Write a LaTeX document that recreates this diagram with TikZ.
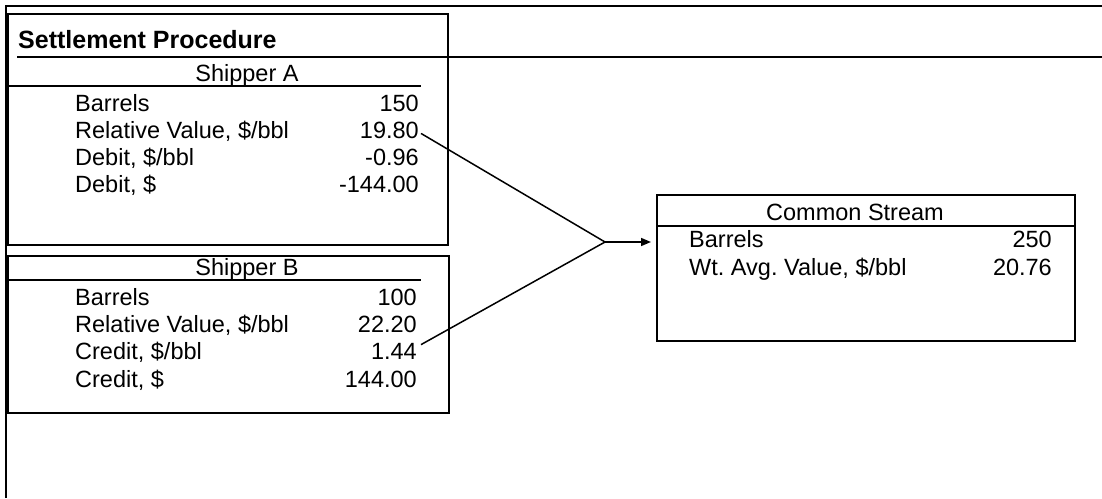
\documentclass[tikz,border=0pt]{standalone}
\usepackage{fontspec}
\setmainfont{Liberation Sans}
\usepackage{tikz}
\usetikzlibrary{calc}
\usetikzlibrary{arrows.meta}
\frenchspacing
\tikzstyle{tblbox} = [rectangle, 
anchor=north west, 
inner sep=0pt, 
draw=black, 
line width=1.5pt, 
fill=none]
\tikzstyle{frameline} = [line width=2.2pt]
\tikzstyle{rule} = [line width=1.5pt]
\tikzstyle{lbl} = [anchor=base west, inner sep=0pt, font=\fontsize{23.5}{28}\selectfont]
\tikzstyle{val} = [anchor=base east, inner sep=0pt, font=\fontsize{23.5}{28}\selectfont]
\tikzstyle{hdr} = [anchor=base, inner sep=0pt, font=\fontsize{23.5}{28}\selectfont]
\tikzstyle{ttl} = [anchor=base west, inner sep=0pt, font=\fontsize{25}{30}\selectfont\bfseries]
\tikzstyle{link} = [line width=1.5pt]
\tikzstyle{arrow} = [line width=1.5pt, -{Triangle[length=10pt, width=8pt]}]

\begin{document}
\begin{tikzpicture}[x=1pt, y=-1pt]
    \useasboundingbox (0,0) rectangle (1102,498);

    % Frame
    \draw [frameline] (6,498) -- (6,6) -- (1102,6);
    \draw [frameline] (17,57) -- (1102,57);
    \node (title) [ttl] at (18,48) {Settlement Procedure};

    % Boxes
    \node (boxA) [tblbox, minimum width=440pt, minimum height=231pt] at (7,13) {};
    \node (boxB) [tblbox, minimum width=441pt, minimum height=157pt] at (7,255) {};
    \node (common) [tblbox, minimum width=418pt, minimum height=146pt] at (656,194) {};

    % Shipper A
    \node (hdrA) [hdr] at (247,81) {Shipper A};
    \draw [rule] ($(boxA.north west)+(0,73)$) -- (421,86);
    \node (barA) [lbl] at (75,111) {Barrels};
    \node (barAv) [val] at (419,111) {150};
    \node (relA) [lbl] at (75,138) {Relative Value, \$/bbl};
    \node (relAv) [val] at (419,138) {19.80};
    \node (debA) [lbl] at (75,165) {Debit, \$/bbl};
    \node (debAv) [val] at (419,165) {-0.96};
    \node (totA) [lbl] at (75,192) {Debit, \$};
    \node (totAv) [val] at (419,192) {-144.00};

    % Shipper B
    \node (hdrB) [hdr] at (247,275) {Shipper B};
    \draw [rule] ($(boxB.north west)+(0,25)$) -- (421,280);
    \node (barB) [lbl] at (75,305) {Barrels};
    \node (barBv) [val] at (417,305) {100};
    \node (relB) [lbl] at (75,332) {Relative Value, \$/bbl};
    \node (relBv) [val] at (417,332) {22.20};
    \node (crB) [lbl] at (75,359) {Credit, \$/bbl};
    \node (crBv) [val] at (417,359) {1.44};
    \node (totB) [lbl] at (75,387) {Credit, \$};
    \node (totBv) [val] at (417,387) {144.00};

    % Common stream
    \node (hdrC) [hdr] at (855,220) {Common Stream};
    \draw [rule] ($(common.north west)+(0,32)$) -- ($(common.north east)+(0,32)$);
    \node (barC) [lbl] at (689,247) {Barrels};
    \node (barCv) [val] at (1052,247) {250};
    \node (avgC) [lbl] at (689,275) {Wt. Avg. Value, \$/bbl};
    \node (avgCv) [val] at (1052,275) {20.76};

    % Links
    \coordinate (join) at (605,242);
    \draw [link] ($(relAv.south east)+(2,-5)$) -- (join);
    \draw [link] ($(crBv.north east)+(4,2)$) -- (join);
    \draw [arrow] (join) -- ($(common.north west)+(-5,48)$);
\end{tikzpicture}
\end{document}
